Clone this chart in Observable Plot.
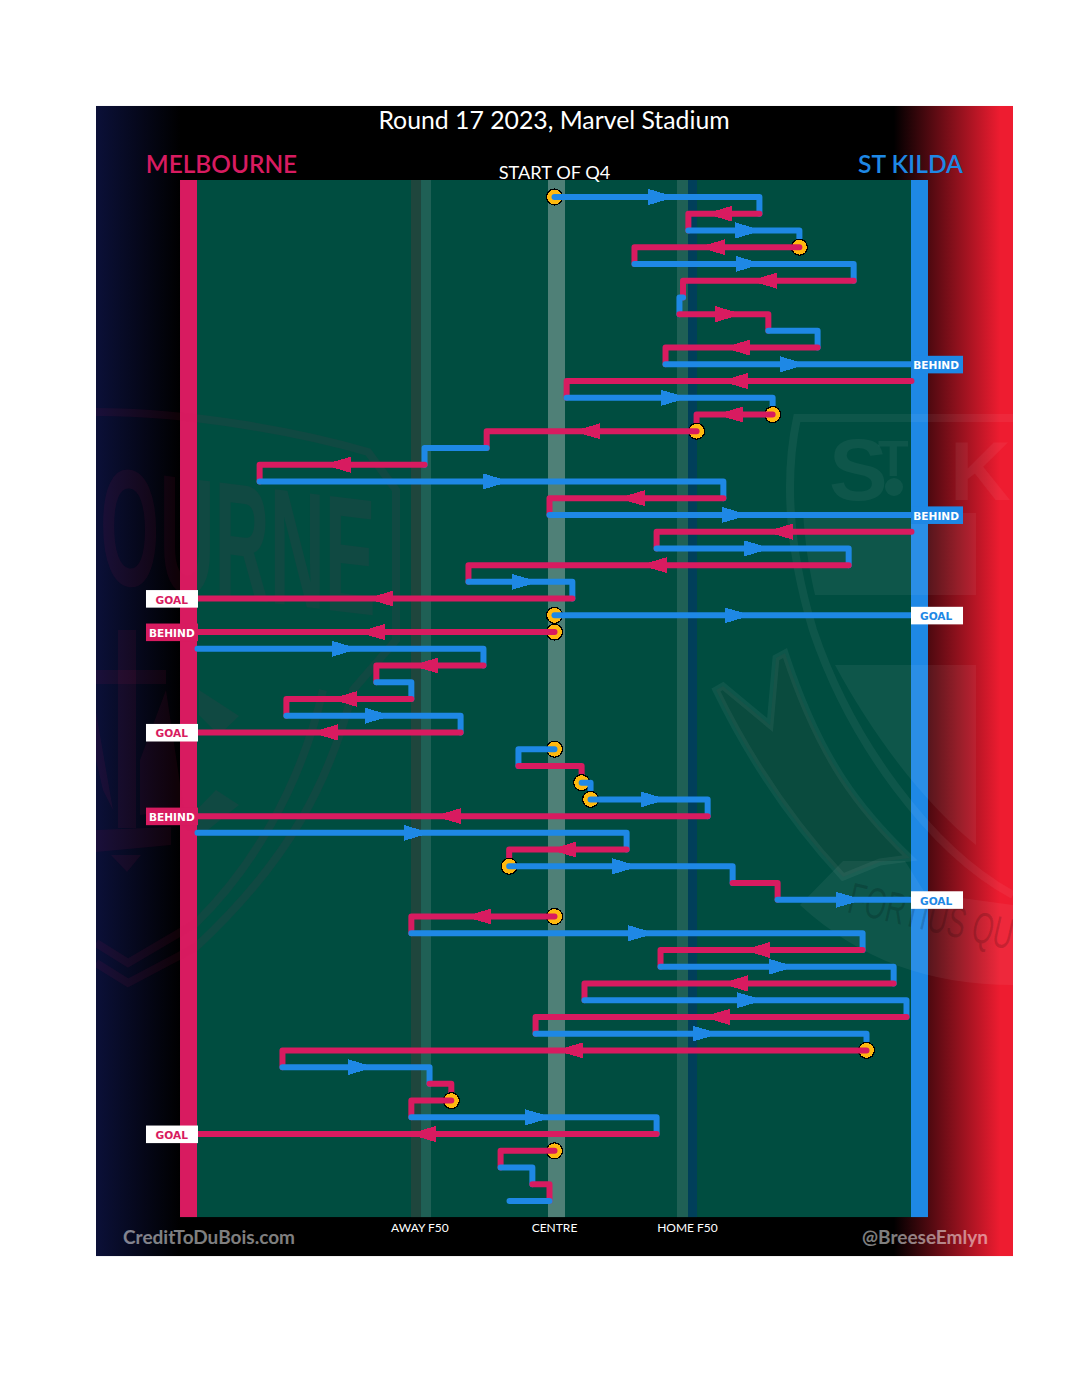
<!DOCTYPE html>
<html>
<head>
<meta charset="utf-8">
<script src="https://cdn.jsdelivr.net/npm/d3@7"></script>
<script src="https://cdn.jsdelivr.net/npm/@observablehq/plot@0.6"></script>
<style>html,body{margin:0;padding:0;background:#fff}svg{display:block}</style>
</head>
<body>
<div id="chart"></div>
<script>
// Field position: -100 = Melbourne goal line, 0 = centre, +100 = St Kilda goal line.
const teams = ["Melbourne", "St Kilda"];
const teamColors = ["#D81B60", "#1E88E5"];
const rowTeam = [
  "S","M","S","M","S","M","S","M","S","M","S","M","S","M","M","S","M","S","M","S","M",
  "S","M","S","M","S","M","S","M","S","M","S","M","S","M","S","S","M","S","M","S","M",
  "S","M","S","M","S","M","S","M","S","M","S","M","M","S","M","M","S","M","S"];
const rowStart = [
  0,57.4,37.5,68.6,22.4,83.8,36,35,59.9,73.7,31.1,100,3.4,61.1,39.8,-19,-36.4,-82.6,47.3,-1.4,100,
  28.6,82.4,-24.1,5,0,0,-100,-19.9,-49.9,-40.1,-75.1,-26.3,0,-10.1,7.6,10.1,42.9,-100,20.2,-12.7,49.9,
  62.5,0,-40.1,86.3,29.7,95,8.4,98.6,-5.3,87.4,-76.2,-35,-28.9,-40.1,28.6,0,-15.1,-6.2,-1.4];
const rowEnd = [
  57.4,37.5,68.6,22.4,83.8,36,35,59.9,73.7,31.1,100,3.4,61.1,39.8,-19,-36.4,-82.6,47.3,-1.4,100,28.6,
  82.4,-24.1,5,-100,100,-100,-19.9,-49.9,-40.1,-75.1,-26.3,-100,-10.1,7.6,10.1,42.9,-100,20.2,-12.7,49.9,62.5,
  100,-40.1,86.3,29.7,95,8.4,98.6,-5.3,87.4,-76.2,-35,-28.9,-40.1,28.6,-100,-15.1,-6.2,-1.4,-12.6];
const stoppageRows = [0,3,13,14,25,26,33,35,36,40,43,51,54,57];
const scoreRows = [10,19,24,25,26,32,37,42,56];
const scoreKinds = ["BEHIND","BEHIND","GOAL","GOAL","BEHIND","GOAL","BEHIND","GOAL","GOAL"];
const zoneLabels = ["AWAY F50","CENTRE","HOME F50"];
const zoneLabelX = [-37.7,0,37.25];

const rows = rowStart.map((s,i)=>({row:i,start:s,end:rowEnd[i],team:rowTeam[i]==="M"?teams[0]:teams[1]}));
const scored = new Set(scoreRows);
const linePoints = r => {
  const pts=[{x:r.start,y:r.row,team:r.team},{x:r.end,y:r.row,team:r.team}];
  const next=rows[r.row+1];
  if(next && !scored.has(r.row) && next.start===r.end) pts.push({x:r.end,y:r.row+1,team:r.team});
  return pts;
};
const arrowRows = rows.filter(r=>Math.abs(r.end-r.start)>=19);
const arrowR = {draw(c){c.moveTo(-8.5,-8);c.lineTo(18.5,0);c.lineTo(-8.5,8);c.closePath();}};
const arrowL = {draw(c){c.moveTo(8.5,-8);c.lineTo(-18.5,0);c.lineTo(8.5,8);c.closePath();}};
const scores = scoreRows.map((r,i)=>({row:r,kind:scoreKinds[i],team:rows[r].team,home:rows[r].team===teams[1]}));

// Frame and field extents in the same units
const frame = {x1:-128.29,x2:128.57,y1:-5.41,y2:63.32};
const field = {x1:-104.76,x2:104.76,y1:-0.986,y2:60.99};
const bands = [
  {x1:-40.06,x2:-37.25,fill:"#1F463D"},
  {x1:-37.25,x2:-34.45,fill:"#1F6055"},
  {x1:-1.68,x2:3.08,fill:"#4F8077"},
  {x1:34.45,x2:37.54,fill:"#1F6055"},
  {x1:37.54,x2:40.06,fill:"#003F5A"}
];

const defs = () => {
  const d = d3.create("svg:defs");
  const g = d.append("linearGradient").attr("id","frameGrad");
  [[0,"#0B1038"],[.092,"#000"],[.87,"#000"],[.986,"#EE1C30"],[1,"#EE1C30"]]
    .forEach(([o,c])=>g.append("stop").attr("offset",o).attr("stop-color",c));
  d.append("clipPath").attr("id","frameClip").append("rect")
    .attr("x",96).attr("y",106).attr("width",917).attr("height",1150);
  return d.node();
};

const watermark = () => {
  const g = d3.create("svg:g").attr("clip-path","url(#frameClip)").style("pointer-events","none").attr("text-anchor","start");
  // St Kilda crest
  const W="rgba(255,255,255,.055)", R="rgba(255,255,255,.055)";
  const p=(d,fill,stroke,sw)=>g.append("path").attr("d",d).attr("fill",fill||"none").attr("stroke",stroke||"none").attr("stroke-width",sw||0);
  p("M1013,418 L797,418 C786,470 786,540 813,630 C850,740 930,850 1013,895","none",W,8);
  p("M835,665 L976,665 L976,845 C920,800 870,730 835,665Z",W);
  p("M803,513 L976,513 L976,595 L815,595 C808,565 805,540 803,513Z",W);
  p("M716,690 L723,686 L770,725 L776,658 L785,653 C820,760 860,810 910,858 L880,862 L843,877 C790,820 750,760 716,690Z","rgba(200,30,40,.05)",W,7);
  p("M843,861 L905,861 L925,893 L1013,905 L1013,985 C930,985 860,960 800,905Z",W);
  const t=(s,x,y,size,fill,tr,fam,weight)=>g.append("text").text(s)
    .attr("transform",`translate(${x},${y}) ${tr||""}`).attr("font-size",size)
    .attr("font-family",fam||"Liberation Sans").attr("font-weight",weight||"bold").attr("fill",fill);
  t("S",829,500,88,R);
  t("T",878,476,50,R);
  g.append("circle").attr("cx",894).attr("cy",487).attr("r",9).attr("fill",R);
  t("K",950,500,84,R);
  t("FORTIUS QUO",846,912,44,"rgba(0,0,0,.16)","rotate(13) scale(.62,1)","Liberation Sans","normal");
  // Melbourne crest
  const M="rgba(216,27,96,.075)";
  t("OURNE",100,582,166,M,"skewY(7) scale(.46,1)");
  p("M96,412 C190,412 300,432 368,452 L396,490 L396,640 L353,690 C330,780 290,860 196,947 L128,983 L96,963",
    "none",M,8);
  p("M323,690 C300,790 250,870 196,923 L128,963 L96,943","none",M,8);
  p("M118,630 H136 V828 H118Z",M);
  p("M96,670 H166 V684 H96Z",M);
  p("M96,830 L171,827 V845 L96,852Z",M);
  p("M111,855 H141 L127,872Z",M);
  p("M96,712 L113,810 L103,790 L96,760Z",M);
  p("M166,690 L184,810 L140,815 L140,760Z",M);
  p("M199,690 L239,716 L219,735 L199,715Z",M);
  p("M216,790 L239,805 L199,837 L181,826Z",M);
  return g.node();
};

const label = (text,dx,dy,o={}) => Plot.text([text],{text:d=>d,frameAnchor:"top-left",lineAnchor:"middle",dx,dy,
  fontFamily:"Lato",fill:"#fff",textAnchor:"middle",...o});

const rowMarks = rows.flatMap(r=>{
  const out=[];
  if(stoppageRows.includes(r.row))
    out.push(Plot.dot([r],{x:"start",y:"row",r:8,fill:"#FFB90F",stroke:"#000",strokeWidth:1.2,shapeRendering:"crispEdges"}));
  out.push(Plot.line(linePoints(r),{x:"x",y:"y",stroke:"team",strokeWidth:6,strokeLinecap:"round",strokeLinejoin:"round"}));
  return out;
});

const chart = Plot.plot({
  width:1080,height:1375,margin:0,
  x:{domain:[-100,100],range:[197,911],axis:null},
  y:{domain:[0,60],range:[196.5,1200.5],axis:null},
  color:{domain:teams,range:teamColors},
  style:{background:"#fff",fontFamily:"Lato"},
  marks:[
    defs,
    Plot.rect([frame],{x1:"x1",x2:"x2",y1:"y1",y2:"y2",fill:"url(#frameGrad)"}),
    Plot.rect([field],{x1:"x1",x2:"x2",y1:"y1",y2:"y2",fill:"#004D40"}),
    Plot.rect(bands,{x1:"x1",x2:"x2",y1:field.y1,y2:field.y2,fill:d=>d.fill}),
    Plot.rect([{x1:-104.76,x2:-100,team:teams[0]},{x1:100,x2:104.76,team:teams[1]}],
      {x1:"x1",x2:"x2",y1:field.y1,y2:field.y2,fill:"team"}),
    watermark,
    ...rowMarks,
    Plot.dot(arrowRows.filter(r=>r.end>r.start),{x:r=>(r.start+r.end)/2,y:"row",r:8,symbol:arrowR,fill:"team",shapeRendering:"crispEdges"}),
    Plot.dot(arrowRows.filter(r=>r.end<r.start),{x:r=>(r.start+r.end)/2,y:"row",r:8,symbol:arrowL,fill:"team",shapeRendering:"crispEdges"}),
    Plot.rect(scores,{
      x1:d=>d.home?100:-114.29, x2:d=>d.home?114.57:-99.72,
      y1:d=>d.row-.48, y2:d=>d.row+.57,
      fill:d=>d.kind==="GOAL"?"#fff":(d.home?teamColors[1]:teamColors[0])}),
    Plot.text(scores,{
      x:d=>d.home?106.9:-107.2,y:"row",dy:1.5,text:"kind",fontFamily:"DejaVu Sans",fontWeight:"bold",fontSize:10.6,
      fill:d=>d.kind!=="GOAL"?"#fff":(d.home?teamColors[1]:teamColors[0])}),
    Plot.text(zoneLabels,{x:(d,i)=>zoneLabelX[i],y:()=>61.6,text:d=>d,fontFamily:"Lato",fontSize:12,fill:"#fff"}),
    label("Round 17 2023, Marvel Stadium",553.5,121,{fontSize:24.8}),
    label("START OF Q4",554,173,{fontSize:18.2}),
    label("MELBOURNE",221,165,{fontSize:24.4,fill:teamColors[0],fontWeight:600}),
    label("ST KILDA",910,165,{fontSize:24.6,fill:teamColors[1],fontWeight:600}),
    label("CreditToDuBois.com",208.5,1237,{fontSize:19,fontWeight:700,fillOpacity:.5}),
    label("@BreeseEmlyn",924.5,1237,{fontSize:19,fontWeight:700,fillOpacity:.5})
  ]
});
document.getElementById("chart").appendChild(chart);
</script>
</body>
</html>
